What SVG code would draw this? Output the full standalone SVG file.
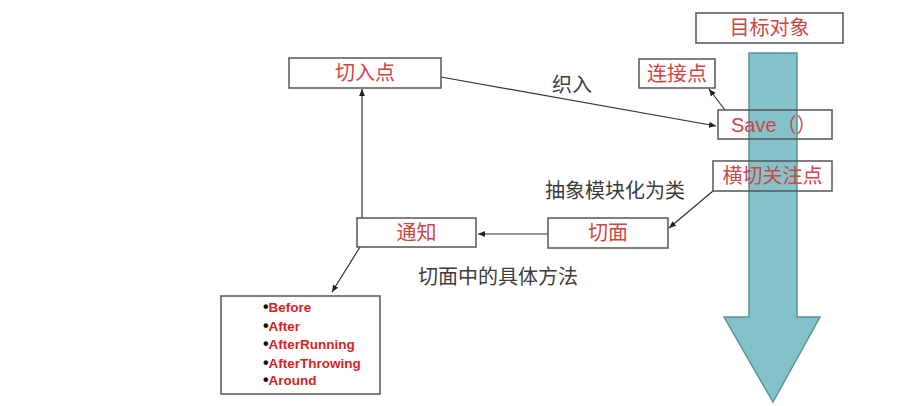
<svg xmlns="http://www.w3.org/2000/svg" width="914" height="406" viewBox="0 0 914 406">
<style>
.box{fill:none;stroke:#555;stroke-width:1.5}
.lbl{font-family:'Liberation Sans','Noto Sans CJK SC',sans-serif;font-size:20px;fill:#d04545;text-anchor:middle}
.note{font-family:'Liberation Sans','Noto Sans CJK SC',sans-serif;font-size:20px;fill:#3c3c3c}
.li{font-family:'Liberation Sans',sans-serif;font-size:13.5px;font-weight:bold;fill:#d42424}
.li tspan{fill:#111;font-size:16px}
.con{fill:none;stroke:#333;stroke-width:1.2;marker-end:url(#ah)}
</style>
<defs>
<marker id="ah" markerUnits="userSpaceOnUse" markerWidth="8" markerHeight="8" viewBox="0 0 8 8" refX="7" refY="4" orient="auto">
<path d="M0,1 L7,4 L0,7 Z" fill="#222"/>
</marker>
</defs>
<rect width="914" height="406" fill="#fff"/>
<polygon id="target-arrow" points="749,53 797,53 797,317 820,317 773,402 724,317 749,317" fill="#84c2ca" stroke="#5b9099" stroke-width="1.5"/>
<g id="connectors">
<line class="con" x1="362" y1="218" x2="362" y2="89"/>
<line class="con" x1="441" y1="77" x2="716" y2="126"/>
<line class="con" x1="725" y1="110" x2="709" y2="89"/>
<line class="con" x1="713" y1="191" x2="669" y2="228"/>
<line class="con" x1="548" y1="234" x2="478" y2="234"/>
<line class="con" x1="360" y1="247" x2="332" y2="292"/>
</g>
<g id="n-target"><rect class="box" x="696" y="13" width="147" height="30"/><text class="lbl" x="769.5" y="35">目标对象</text></g>
<g id="n-pointcut"><rect class="box" x="289" y="58" width="152" height="30"/><text class="lbl" x="365" y="80">切入点</text></g>
<g id="n-joinpoint"><rect class="box" x="639" y="59" width="76" height="29"/><text class="lbl" x="677" y="80.5">连接点</text></g>
<g id="n-save"><rect class="box" x="718" y="110" width="114" height="29"/><text class="lbl" x="731" y="131.5" style="text-anchor:start">Save（）</text></g>
<g id="n-crosscut"><rect class="box" x="713" y="161" width="119" height="30"/><text class="lbl" x="772.5" y="183">横切关注点</text></g>
<g id="n-aspect"><rect class="box" x="548" y="218" width="120" height="30"/><text class="lbl" x="608" y="240">切面</text></g>
<g id="n-advice"><rect class="box" x="357" y="218" width="119" height="29"/><text class="lbl" x="416.5" y="240">通知</text></g>
<g id="n-list"><rect class="box" x="221" y="296" width="159" height="98"/>
<text class="li" x="263" y="312"><tspan>•</tspan>Before</text>
<text class="li" x="263" y="331"><tspan>•</tspan>After</text>
<text class="li" x="263" y="349"><tspan>•</tspan>AfterRunning</text>
<text class="li" x="263" y="368"><tspan>•</tspan>AfterThrowing</text>
<text class="li" x="263" y="385"><tspan>•</tspan>Around</text>
</g>
<text class="note" x="552" y="92">织入</text>
<text class="note" x="545" y="198">抽象模块化为类</text>
<text class="note" x="418" y="284">切面中的具体方法</text>
</svg>
